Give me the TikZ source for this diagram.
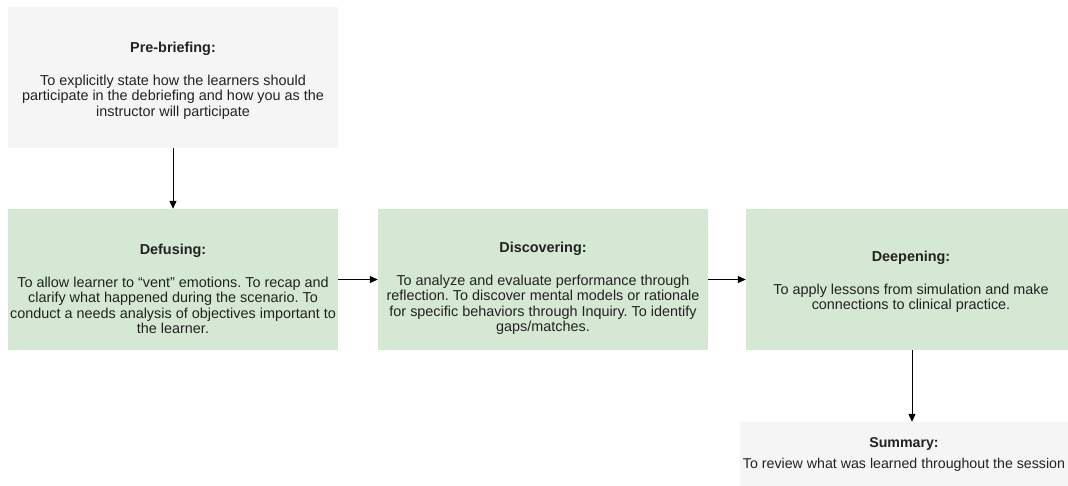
\documentclass[tikz,border=0pt]{standalone}
\usepackage{fontspec}
\setmainfont{Liberation Sans}
\usetikzlibrary{arrows.meta}
\definecolor{stepgreen}{HTML}{D5E8D4}
\definecolor{stepgray}{HTML}{F5F5F5}
\definecolor{stepink}{HTML}{222222}
\tikzset{
  phase/.style={rectangle, minimum width=330pt, minimum height=141pt, inner sep=0pt, draw=none},
  phasetext/.style={align=center, text=stepink, font=\frenchspacing\fontsize{14.4}{15.5}\selectfont, inner sep=0pt},
  flow/.style={line width=1pt, -{Triangle[length=8pt,width=7pt]}}
}
\begin{document}
\begin{tikzpicture}[x=1pt,y=-1pt]
            \useasboundingbox (0,0) rectangle (1068,485);
            \clip (0,0) rectangle (1068,485);
            \node [phase, fill=stepgray] (prebrief) at (173,77.5) {};
            \node [phasetext] (prebrief-txt) at (173,81) {\textbf{Pre-briefing:}\\[17pt]To explicitly state how the learners should\\participate in the debriefing and how you as the\\instructor will participate};
            \node [phase, fill=stepgreen] (defusing) at (173,279.5) {};
            \node [phasetext] (defusing-txt) at (173,289) {\textbf{Defusing:}\\[17pt]To allow learner to ``vent'' emotions. To recap and\\clarify what happened during the scenario. To\\conduct a needs analysis of objectives important to\\the learner.};
            \node [phase, fill=stepgreen] (discovering) at (543,279.5) {};
            \node [phasetext] (discovering-txt) at (543,288.5) {\textbf{Discovering:}\\[17pt]To analyze and evaluate performance through\\reflection. To discover mental models or rationale\\for specific behaviors through Inquiry. To identify\\gaps/matches.};
            \node [phase, fill=stepgreen] (deepening) at (911,279.5) {};
            \node [phasetext] (deepening-txt) at (911,282) {\textbf{Deepening:}\\[17pt]To apply lessons from simulation and make\\connections to clinical practice.};
            \node [phase, fill=stepgray, minimum width=344pt] (summary) at (912,492.5) {};
            \node [phasetext, font=\frenchspacing\fontsize{14.2}{15.5}\selectfont] (summary-txt) at (904,454.5) {\textbf{Summary:}\\[6pt]To review what was learned throughout the session};
            \draw [flow] (prebrief) -- (defusing);
            \draw [flow] (defusing) -- (discovering);
            \draw [flow] (discovering) -- (deepening);
            \draw [flow] (deepening.south -| summary.north) -- (summary.north);
        \end{tikzpicture}
\end{document}
